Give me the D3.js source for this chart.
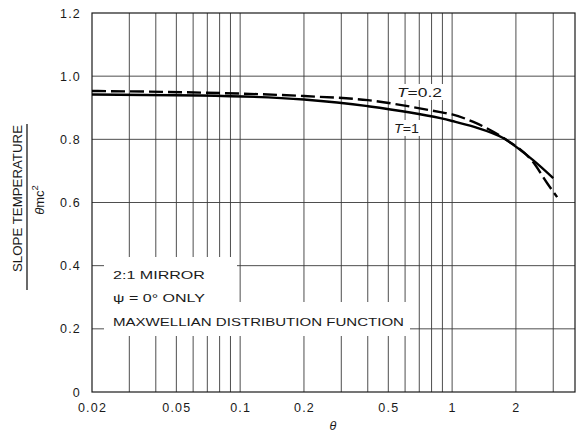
<!DOCTYPE html>
<html><head><meta charset="utf-8">
<script src="https://cdn.jsdelivr.net/npm/d3@7"></script>
<style>body{margin:0;background:#fff}</style>
</head><body>
<svg id="c" width="576" height="433"></svg>
<script>
// ---- data ----
const thetaT1  = [0.02, 0.065, 0.2, 0.4, 0.88, 1, 1.26, 1.74, 2.41, 3.0];
const slopeT1  = [0.942, 0.939, 0.926, 0.905, 0.867, 0.858, 0.840, 0.804, 0.734, 0.677];
const thetaT02 = [0.02, 0.065, 0.2, 0.4, 0.88, 1, 1.26, 1.74, 2.41, 2.81, 3.13];
const slopeT02 = [0.953, 0.948, 0.937, 0.924, 0.886, 0.879, 0.855, 0.805, 0.728, 0.661, 0.617];
const xTickLabels = [0.02, 0.05, 0.1, 0.2, 0.5, 1, 2];
const xGridValues = [0.03,0.04,0.05,0.06,0.07,0.08,0.09,0.1,0.2,0.3,0.4,0.5,0.6,0.7,0.8,0.9,1,2,3];
const yTickLabels = [0, 0.2, 0.4, 0.6, 0.8, 1.0, 1.2];
const noteLines = ["2:1  MIRROR", "\u03C8 = 0\u00B0  ONLY", "MAXWELLIAN  DISTRIBUTION  FUNCTION"];

// ---- layout ----
const L = 92, R = 575, T = 13, B = 392;
const svg = d3.select("#c");
const x = d3.scaleLog().domain([0.02, 3.8]).range([L, R]);
const y = d3.scaleLinear().domain([0, 1.2]).range([B, T]);
const font = "'Liberation Sans', Arial, sans-serif";
const ink = "#1a1a1a";

// grid
const g = svg.append("g");
g.selectAll("line.v").data(xGridValues).join("line")
  .attr("x1", d => x(d)).attr("x2", d => x(d)).attr("y1", T).attr("y2", B)
  .attr("stroke", "#3a3a3a").attr("stroke-width", 0.9);
g.selectAll("line.h").data(yTickLabels.filter(d => d > 0 && d < 1.2)).join("line")
  .attr("x1", L).attr("x2", R).attr("y1", d => y(d)).attr("y2", d => y(d))
  .attr("stroke", "#3a3a3a").attr("stroke-width", 0.9);
// border
svg.append("rect").attr("x", L).attr("y", T).attr("width", R - L).attr("height", B - T)
  .attr("fill", "none").attr("stroke", ink).attr("stroke-width", 1.2);

// white backgrounds for annotations
const wb = svg.append("g").attr("fill", "#fff");
wb.append("rect").attr("x", 104).attr("y", 257).attr("width", 133).attr("height", 46);
wb.append("rect").attr("x", 104).attr("y", 302).attr("width", 306).attr("height", 34);
wb.append("rect").attr("x", 395).attr("y", 84).attr("width", 50).attr("height", 16);
wb.append("rect").attr("x", 392).attr("y", 120).attr("width", 30).attr("height", 16);

// curves
const line = d3.line().x(d => x(d[0])).y(d => y(d[1])).curve(d3.curveMonotoneX);
svg.append("path").datum(d3.zip(thetaT1, slopeT1)).attr("d", line)
  .attr("fill", "none").attr("stroke", "#000").attr("stroke-width", 2.4);
svg.append("path").datum(d3.zip(thetaT02, slopeT02)).attr("d", line)
  .attr("fill", "none").attr("stroke", "#000").attr("stroke-width", 2.4)
  .attr("stroke-dasharray", "14,5");

// axes labels
const xa = svg.append("g").attr("transform", `translate(0,${B})`)
  .call(d3.axisBottom(x).tickValues(xTickLabels).tickSize(0).tickPadding(11)
    .tickFormat(d => String(d)));
xa.select(".domain").remove();
xa.selectAll("text").attr("font-family", font).attr("font-size", 12.5)
  .attr("letter-spacing", 1.2).attr("fill", ink);

const ya = svg.append("g").attr("transform", `translate(${L},0)`)
  .call(d3.axisLeft(y).tickValues(yTickLabels).tickSize(0).tickPadding(11)
    .tickFormat(d => d === 0 ? "0" : d3.format(".1f")(d)));
ya.select(".domain").remove();
ya.selectAll("text").attr("font-family", font).attr("font-size", 12.5)
  .attr("letter-spacing", 1.2).attr("fill", ink);

// x title
svg.append("text").attr("x", 333).attr("y", 430).attr("text-anchor", "middle")
  .attr("font-family", font).attr("font-style", "italic").attr("font-size", 12.5)
  .attr("fill", ink).text("\u03B8");

// y title (fraction)
svg.append("text").attr("transform", "translate(22,198.5) rotate(-90)")
  .attr("text-anchor", "middle").attr("font-family", font).attr("font-size", 12)
  .attr("textLength", 147).attr("lengthAdjust", "spacingAndGlyphs")
  .attr("fill", ink).text("SLOPE TEMPERATURE");
svg.append("line").attr("x1", 27).attr("x2", 27).attr("y1", 124).attr("y2", 290)
  .attr("stroke", ink).attr("stroke-width", 1.3);
const yt2 = svg.append("text").attr("transform", "translate(44,200) rotate(-90)")
  .attr("text-anchor", "middle").attr("font-family", font).attr("font-size", 13)
  .attr("fill", ink);
yt2.append("tspan").attr("font-style", "italic").text("\u03B8");
yt2.append("tspan").text("mc");
yt2.append("tspan").attr("font-size", 9.5).attr("dy", -6).text("2");

// notes
const noteY = [279, 302, 326];
const noteW = [92, 92, 291];
svg.selectAll("text.note").data(noteLines).join("text")
  .attr("x", 113).attr("y", (d, i) => noteY[i])
  .attr("font-family", font).attr("font-size", 11).attr("fill", ink)
  .attr("textLength", (d, i) => noteW[i]).attr("lengthAdjust", "spacingAndGlyphs")
  .text(d => d);

// curve labels
const lab1 = svg.append("text").attr("x", 397).attr("y", 97)
  .attr("font-family", font).attr("font-size", 12.5).attr("fill", ink)
  .attr("textLength", 45).attr("lengthAdjust", "spacingAndGlyphs");
lab1.append("tspan").attr("font-style", "italic").text("T");
lab1.append("tspan").text("=0.2");
const lab2 = svg.append("text").attr("x", 394).attr("y", 133)
  .attr("font-family", font).attr("font-size", 12.5).attr("fill", ink)
  .attr("textLength", 25).attr("lengthAdjust", "spacingAndGlyphs");
lab2.append("tspan").attr("font-style", "italic").text("T");
lab2.append("tspan").text("=1");
</script>
</body></html>
